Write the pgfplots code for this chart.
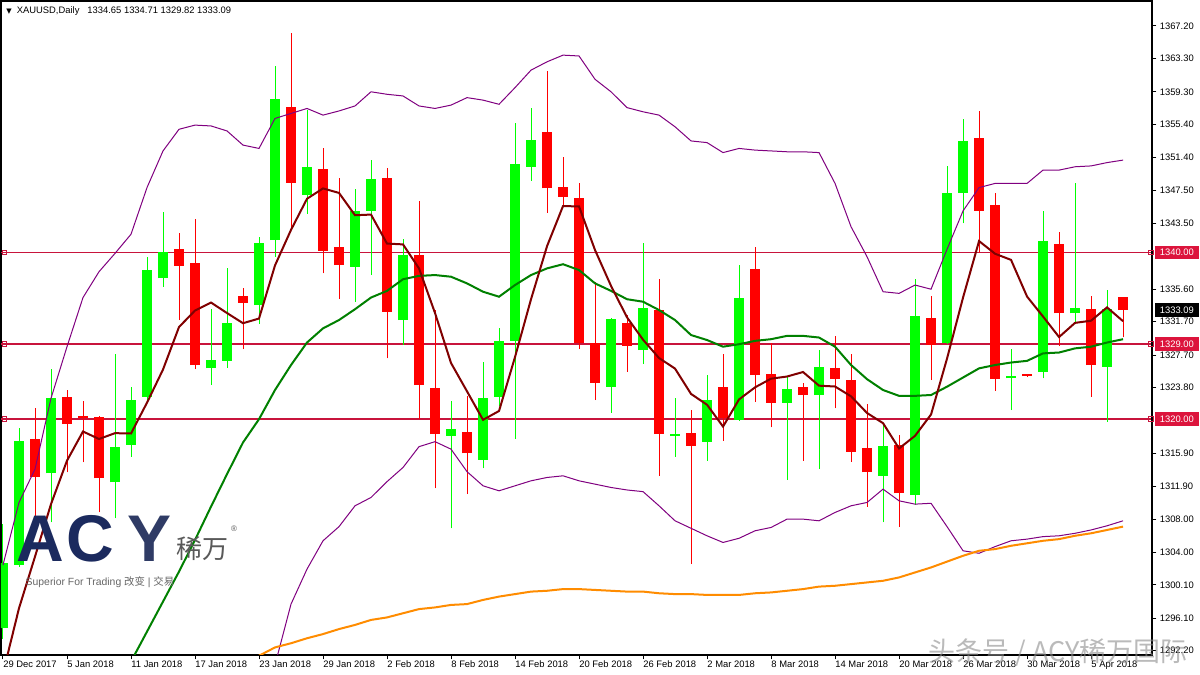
\documentclass[border=0pt]{standalone}
\usepackage{fontspec}
\setmainfont{Liberation Sans}
\newfontfamily\cjk{Noto Sans CJK SC}
\newfontfamily\dejavu{DejaVu Sans}
\usepackage{pgfplots}
\pgfplotsset{compat=1.18}
\usepackage{pgfplotstable}
\definecolor{bull}{HTML}{00FF00}
\definecolor{bear}{HTML}{FF0000}
\definecolor{hline}{HTML}{C8143C}
\definecolor{hlab}{HTML}{DC143C}
\definecolor{bb}{HTML}{800080}
\definecolor{maf}{HTML}{800000}
\definecolor{mam}{HTML}{008000}
\definecolor{mal}{HTML}{FF8C00}
\definecolor{navy}{HTML}{1B2A5E}

\pgfplotstableread{
k o h l c
0 1294.9 1307.4 1293.6 1302.7
1 1302.5 1318.9 1302.3 1317.4
3 1313.5 1326.0 1307.6 1322.5
7 1312.4 1327.8 1308.1 1316.6
8 1316.9 1323.9 1315.5 1322.3
9 1322.7 1339.5 1322.1 1337.9
10 1336.9 1344.9 1335.9 1340.1
13 1326.1 1333.2 1324.1 1327.1
14 1327.0 1338.1 1326.2 1331.6
16 1333.7 1341.9 1331.4 1341.2
17 1341.5 1362.4 1339.5 1358.4
19 1346.9 1357.1 1344.6 1350.3
22 1338.3 1347.6 1334.1 1345.0
23 1345.0 1351.1 1337.3 1348.8
25 1331.9 1341.6 1328.9 1339.7
28 1318.0 1322.2 1306.9 1318.8
30 1315.1 1326.9 1314.1 1322.6
31 1322.7 1331.0 1321.6 1329.4
32 1329.4 1355.6 1317.6 1350.6
33 1350.3 1357.3 1348.6 1353.5
38 1323.9 1332.2 1320.8 1332.0
40 1328.3 1341.2 1326.6 1333.3
42 1317.95 1322.5 1315.5 1318.05
44 1317.3 1325.3 1315.0 1322.3
46 1319.9 1338.5 1319.8 1334.5
49 1322.0 1325.2 1312.7 1323.6
51 1322.9 1328.3 1314.0 1326.3
55 1313.2 1319.5 1307.6 1316.8
57 1310.9 1336.8 1309.7 1332.4
59 1329.2 1350.4 1329.0 1347.2
60 1347.2 1356.0 1343.5 1353.4
63 1324.9 1328.4 1321.1 1325.2
65 1325.7 1345.0 1324.9 1341.4
67 1332.7 1348.4 1331.4 1333.3
69 1326.3 1335.5 1319.7 1333.2
}\upT

\pgfplotstableread{
k o h l c
2 1317.6 1321.4 1307.4 1313.1
4 1322.7 1323.5 1313.6 1319.4
5 1320.4 1322.2 1314.8 1320.2
6 1320.3 1320.4 1308.8 1312.9
11 1340.4 1342.3 1331.9 1338.4
12 1338.7 1344.0 1326.0 1326.5
15 1334.8 1335.7 1328.4 1334.0
18 1357.5 1366.3 1342.9 1348.4
20 1350.0 1352.5 1337.5 1340.2
21 1340.7 1349.0 1334.4 1338.5
24 1349.0 1350.1 1327.3 1332.9
26 1339.7 1346.2 1320.0 1324.1
27 1323.7 1333.1 1311.7 1318.2
29 1318.5 1322.8 1311.0 1315.9
34 1354.5 1361.8 1344.8 1347.7
35 1347.9 1351.5 1345.6 1346.7
36 1346.6 1348.4 1328.4 1329.2
37 1329.2 1336.5 1322.3 1324.4
39 1331.5 1332.5 1325.7 1328.8
41 1333.1 1336.8 1313.2 1318.2
43 1318.3 1321.1 1302.6 1316.8
45 1323.9 1327.8 1317.4 1320.2
47 1338.0 1340.7 1322.1 1325.3
48 1325.4 1329.2 1319.0 1322.0
50 1323.9 1324.4 1315.0 1322.9
52 1326.2 1330.0 1321.3 1324.8
53 1324.7 1327.8 1314.9 1316.1
54 1316.5 1321.8 1309.5 1313.6
56 1316.9 1318.1 1307.1 1311.1
58 1332.2 1334.8 1324.7 1328.9
61 1353.7 1357.0 1340.0 1345.0
62 1345.7 1347.1 1323.4 1324.8
64 1325.3 1325.4 1325.1 1325.2
66 1341.0 1342.5 1328.8 1332.7
68 1333.2 1334.8 1322.7 1326.5
70 1334.65 1334.71 1329.82 1333.09
}\downT

\newcommand{\tf}{\fontsize{4.7}{5}\selectfont}
\pgfplotsset{candle/.style={only marks, mark=*, mark size=0pt, mark options={draw opacity=0, fill opacity=0}, forget plot}}

\begin{document}
\begin{tikzpicture}
\path[use as bounding box] (0,0) rectangle (600pt,337.5pt);
\fill[white] (0,0) rectangle (600pt,337.5pt);
\begin{axis}[
  at={(0.5pt,337pt)}, anchor=north west,
  width=575.5pt, height=327pt, scale only axis,
  xmin=-0.125, xmax=71.81, ymin=1291.69, ymax=1370.2,
  axis line style={black, line width=0.6pt},
  clip mode=individual,
  xtick pos=bottom, ytick pos=right, yticklabel pos=right,
  tick align=outside, major tick length=2.2pt,
  tick style={black, line width=0.5pt},
  xtick={0,4,...,68},
  xticklabels={29 Dec 2017,5 Jan 2018,11 Jan 2018,17 Jan 2018,23 Jan 2018,29 Jan 2018,2 Feb 2018,8 Feb 2018,14 Feb 2018,20 Feb 2018,26 Feb 2018,2 Mar 2018,8 Mar 2018,14 Mar 2018,20 Mar 2018,26 Mar 2018,30 Mar 2018,5 Apr 2018},
  xticklabel style={anchor=north west, inner sep=0.5pt, xshift=-0.5pt, font=\tf},
  ytick={1367.2,1363.3,1359.3,1355.4,1351.4,1347.5,1343.5,1335.6,1331.7,1327.7,1323.8,1315.9,1311.9,1308.0,1304.0,1300.1,1296.1,1292.2},
  yticklabels={1367.20,1363.30,1359.30,1355.40,1351.40,1347.50,1343.50,1335.60,1331.70,1327.70,1323.80,1315.90,1311.90,1308.00,1304.00,1300.10,1296.10,1292.20},
  yticklabel style={anchor=west, inner sep=0.5pt, xshift=1pt, font=\tf},
]
% horizontal levels
\addplot[hline, line width=0.5pt, mark=square, mark size=1.2pt, mark options={fill=white, line width=0.5pt}, mark indices={2,3}] coordinates {(-0.125,1340) (0.1,1340) (71.75,1340)};
\addplot[hline, line width=1pt, mark=square, mark size=1.2pt, mark options={fill=white, line width=0.5pt}, mark indices={2,3}] coordinates {(-0.125,1329) (0.1,1329) (71.75,1329)};
\addplot[hline, line width=1pt, mark=square, mark size=1.2pt, mark options={fill=white, line width=0.5pt}, mark indices={2,3}] coordinates {(-0.125,1320) (0.1,1320) (71.75,1320)};

% wicks
\addplot[bull, candle, error bars/.cd, y dir=plus, y explicit, error mark=none, error bar style={line width=0.5pt, draw=bull}] table[x=k, y=l, y error expr=\thisrow{h}-\thisrow{l}] {\upT};
\addplot[bear, candle, error bars/.cd, y dir=plus, y explicit, error mark=none, error bar style={line width=0.5pt, draw=bear}] table[x=k, y=l, y error expr=\thisrow{h}-\thisrow{l}] {\downT};
% bodies
\addplot[bull, candle, error bars/.cd, y dir=plus, y explicit, error mark=none, error bar style={line width=5pt, draw=bull}] table[x=k, y=o, y error expr={max(\thisrow{c}-\thisrow{o},0.22)}] {\upT};
\addplot[bear, candle, error bars/.cd, y dir=plus, y explicit, error mark=none, error bar style={line width=5pt, draw=bear}] table[x=k, y=c, y error expr={max(\thisrow{o}-\thisrow{c},0.22)}] {\downT};

% Bollinger upper
\addplot[bb, line width=0.5pt] coordinates {
(0,1302.5)(1,1310.0)(2,1314.0)(3,1322.5)(4,1328.7)(5,1334.6)(6,1337.7)(7,1339.9)(8,1342.2)(9,1347.8)(10,1352.2)(11,1354.8)(12,1355.3)(13,1355.2)(14,1354.6)(15,1352.9)(16,1352.5)(17,1356.1)(18,1356.7)(19,1357.3)(20,1356.5)(21,1357.0)(22,1357.6)(23,1359.3)(24,1359.0)(25,1358.8)(26,1357.6)(27,1357.3)(28,1357.7)(29,1358.6)(30,1358.3)(31,1357.8)(32,1359.8)(33,1361.9)(34,1362.9)(35,1363.7)(36,1363.6)(37,1360.8)(38,1359.3)(39,1357.4)(40,1356.9)(41,1356.5)(42,1355.1)(43,1353.4)(44,1353.2)(45,1352.0)(46,1352.5)(47,1352.3)(48,1352.2)(49,1352.1)(50,1352.1)(51,1352.0)(52,1348.3)(53,1343.1)(54,1339.5)(55,1335.3)(56,1335.1)(57,1336.1)(58,1335.6)(59,1340.4)(60,1345.0)(61,1347.8)(62,1348.3)(63,1348.3)(64,1348.3)(65,1349.9)(66,1349.9)(67,1350.3)(68,1350.4)(69,1350.8)(70,1351.1)};
% Bollinger lower
\addplot[bb, line width=0.5pt] coordinates {
(17,1290.5)(18,1297.8)(19,1302.0)(20,1305.4)(21,1307.1)(22,1309.6)(23,1310.6)(24,1312.5)(25,1314.2)(26,1316.7)(27,1317.3)(28,1316.4)(29,1313.7)(30,1312.0)(31,1311.4)(32,1312.0)(33,1312.6)(34,1313.0)(35,1313.2)(36,1312.6)(37,1312.2)(38,1311.8)(39,1311.5)(40,1311.3)(41,1309.6)(42,1307.8)(43,1306.9)(44,1306.0)(45,1305.2)(46,1305.7)(47,1306.6)(48,1307.0)(49,1308.0)(50,1308.0)(51,1307.8)(52,1308.8)(53,1309.6)(54,1310.0)(55,1311.6)(56,1310.2)(57,1309.8)(58,1309.9)(59,1307.1)(60,1304.2)(61,1303.9)(62,1304.7)(63,1305.4)(64,1305.6)(65,1305.9)(66,1306.0)(67,1306.3)(68,1306.7)(69,1307.2)(70,1307.8)};
% long MA (orange)
\addplot[mal, line width=1pt] coordinates {
(15,1290.9)(16,1291.6)(17,1292.6)(18,1293.1)(19,1293.7)(20,1294.2)(21,1294.8)(22,1295.3)(23,1295.9)(24,1296.2)(25,1296.7)(26,1297.2)(27,1297.4)(28,1297.7)(29,1297.8)(30,1298.3)(31,1298.7)(32,1299.0)(33,1299.3)(34,1299.4)(35,1299.6)(36,1299.6)(37,1299.5)(38,1299.4)(39,1299.3)(40,1299.3)(41,1299.1)(42,1299.0)(43,1299.0)(44,1298.9)(45,1298.9)(46,1298.9)(47,1299.1)(48,1299.2)(49,1299.4)(50,1299.6)(51,1299.9)(52,1300.0)(53,1300.2)(54,1300.4)(55,1300.6)(56,1301.0)(57,1301.6)(58,1302.2)(59,1302.9)(60,1303.6)(61,1304.2)(62,1304.4)(63,1304.8)(64,1305.1)(65,1305.4)(66,1305.6)(67,1306.0)(68,1306.3)(69,1306.7)(70,1307.1)};
% 20 MA (green)
\addplot[mam, line width=1pt] coordinates {
(7,1287.3)(8,1290.9)(9,1294.5)(10,1298.1)(11,1301.7)(12,1305.5)(13,1309.5)(14,1313.4)(15,1317.2)(16,1320.0)(17,1323.5)(18,1326.5)(19,1329.2)(20,1330.9)(21,1331.9)(22,1333.2)(23,1334.6)(24,1335.4)(25,1336.8)(26,1337.2)(27,1337.3)(28,1337.1)(29,1336.3)(30,1335.3)(31,1334.7)(32,1336.1)(33,1337.3)(34,1338.1)(35,1338.6)(36,1337.9)(37,1336.3)(38,1335.4)(39,1334.4)(40,1334.1)(41,1333.1)(42,1331.9)(43,1330.1)(44,1329.5)(45,1328.7)(46,1329.0)(47,1329.4)(48,1329.6)(49,1330.0)(50,1330.0)(51,1329.8)(52,1328.7)(53,1326.5)(54,1324.8)(55,1323.5)(56,1322.8)(57,1322.8)(58,1322.9)(59,1323.9)(60,1325.0)(61,1326.1)(62,1326.5)(63,1326.8)(64,1327.0)(65,1327.9)(66,1328.0)(67,1328.5)(68,1328.7)(69,1329.2)(70,1329.6)};
% 5 MA (maroon)
\addplot[maf, line width=1pt] coordinates {
(0,1289.5)(1,1297.3)(2,1303.5)(3,1309.8)(4,1315.02)(5,1318.52)(6,1317.62)(7,1318.32)(8,1318.28)(9,1321.98)(10,1325.96)(11,1331.06)(12,1333.04)(13,1334.0)(14,1332.74)(15,1331.52)(16,1332.08)(17,1338.46)(18,1342.72)(19,1346.46)(20,1347.7)(21,1347.16)(22,1344.48)(23,1344.56)(24,1341.08)(25,1340.98)(26,1338.1)(27,1332.74)(28,1326.74)(29,1323.34)(30,1319.92)(31,1320.98)(32,1327.46)(33,1334.4)(34,1340.76)(35,1345.58)(36,1345.54)(37,1340.3)(38,1336.0)(39,1332.22)(40,1329.54)(41,1327.34)(42,1326.07)(43,1323.03)(44,1321.73)(45,1319.11)(46,1322.37)(47,1323.82)(48,1324.86)(49,1325.12)(50,1325.66)(51,1324.02)(52,1323.92)(53,1322.74)(54,1320.74)(55,1319.52)(56,1316.48)(57,1318.0)(58,1320.56)(59,1327.28)(60,1334.6)(61,1341.38)(62,1339.86)(63,1339.12)(64,1334.72)(65,1332.32)(66,1329.86)(67,1331.56)(68,1331.82)(69,1333.42)(70,1331.76)};

% price labels on the right scale
\node[anchor=west, fill=hlab, text=white, inner sep=0.6pt, minimum height=6.8pt, minimum width=22pt, font=\tf, xshift=1.2pt] at (axis cs:71.81,1340) {1340.00};
\node[anchor=west, fill=hlab, text=white, inner sep=0.6pt, minimum height=6.8pt, minimum width=22pt, font=\tf, xshift=1.2pt] at (axis cs:71.81,1329) {1329.00};
\node[anchor=west, fill=hlab, text=white, inner sep=0.6pt, minimum height=6.8pt, minimum width=22pt, font=\tf, xshift=1.2pt] at (axis cs:71.81,1320) {1320.00};
\node[anchor=west, fill=black, text=white, inner sep=0.6pt, minimum height=6.8pt, minimum width=22pt, font=\tf, xshift=1.2pt] at (axis cs:71.81,1333.09) {1333.09};
\end{axis}

% title
\node[anchor=west, inner sep=0pt, font=\tf] at (3pt,332pt) {{\dejavu\fontsize{3.5}{4}\selectfont ▼}\hspace{2.5pt}XAUUSD,Daily\hspace{4pt}1334.65 1334.71 1329.82 1333.09};

% ACY logo
\node[anchor=center, inner sep=0pt, text=navy, font=\fontsize{33}{33}\selectfont\bfseries] at (20pt,68pt) {A};
\node[anchor=center, inner sep=0pt, text=navy, font=\fontsize{33}{33}\selectfont\bfseries] at (45pt,68pt) {C};
\node[anchor=center, inner sep=0pt, text=navy!80!gray, font=\fontsize{33}{33}\selectfont\bfseries] at (75pt,68pt) {Y};
\node[anchor=center, inner sep=0pt, text=black!65, font=\cjk\fontsize{13}{13}\selectfont] at (101pt,63pt) {稀万};
\node[anchor=center, inner sep=0pt, text=black!65, font=\fontsize{4}{4}\selectfont] at (117pt,73pt) {®};
\node[anchor=center, inner sep=0pt, text=black!60, font=\fontsize{5.2}{5.2}\selectfont] at (50pt,46.5pt) {Superior For Trading {\cjk 改变} | {\cjk 交易}};

% watermark
\node[anchor=center, inner sep=0pt, text=black!45, opacity=0.6, font=\cjk\fontsize{13.5}{13.5}\selectfont] at (529pt,11pt) {头条号 / ACY稀万国际};
\end{tikzpicture}
\end{document}
